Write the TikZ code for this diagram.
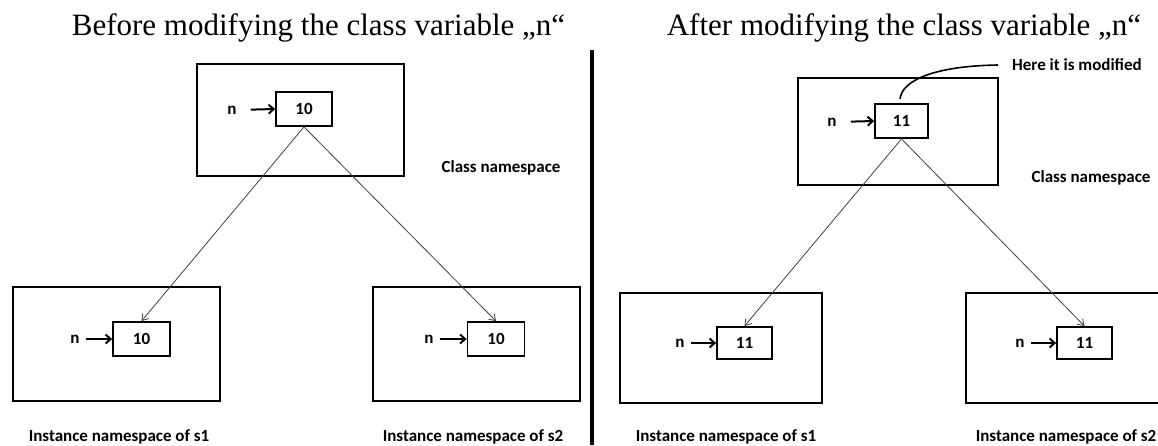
\documentclass[tikz,border=0pt]{standalone}
\usepackage{fontspec}
\setmainfont{Liberation Serif}
\newfontfamily\calibf{Carlito}
\usetikzlibrary{arrows.meta}
\newcommand{\labfont}{\calibf\bfseries\fontsize{17}{20}\selectfont}
\begin{document}
\begin{tikzpicture}[x=1pt,y=-1pt,
  outer/.style={draw,line width=1.8pt,inner sep=0pt},
  cell/.style={draw,line width=1.8pt,inner sep=0pt,font=\labfont},
  lab/.style={font=\labfont,inner sep=0pt},
  ptr/.style={-{Straight Barb[length=5pt,width=9pt]},line width=2pt},
  link/.style={-{Straight Barb[length=6pt,width=8pt]},line width=0.8pt,black!75},
  ttl/.style={anchor=base,inner sep=0pt,font=\fontsize{31}{36}\selectfont}]
\path[use as bounding box] (0,0) rectangle (1158,445);
\clip (0,0) rectangle (1158,445);

% titles
\node[ttl] (t1) at (318.5,35) {Before modifying the class variable „n“};
\node[ttl] (t2) at (904,35) {After modifying the class variable „n“};

% divider
\coordinate (dtop) at (592,50);
\coordinate (dbot) at (592,445);
\draw[line width=4.5pt] (dtop) -- (dbot);

% ---------- left panel ----------
\node[outer,minimum width=207pt,minimum height=112pt] (lc) at (300.5,120) {};
\node[cell,minimum width=56pt,minimum height=34pt] (lci) at (304,109) {10};
\node[lab] (lcn) at (232,110) {n};
\draw[ptr,shorten <=14pt] (lcn.east) -- (lci.west);
\node[lab] (lcl) at (501,168) {Class namespace};

\node[outer,minimum width=207pt,minimum height=114pt] (l1) at (116.5,344) {};
\node[cell,minimum width=57pt,minimum height=34pt] (l1i) at (141.5,339) {10};
\node[lab] (l1n) at (75,339) {n};
\draw[ptr,shorten <=6pt] (l1n.east) -- (l1i.west);
\node[lab] (l1l) at (119,437) {Instance namespace of s1};

\node[outer,minimum width=207pt,minimum height=114pt] (l2) at (476.5,344) {};
\node[cell,minimum width=57pt,minimum height=34pt] (l2i) at (496,339) {10};
\node[lab] (l2n) at (429,339) {n};
\draw[ptr,shorten <=6pt] (l2n.east) -- (l2i.west);
\node[lab] (l2l) at (473,437) {Instance namespace of s2};

\draw[link] (lci.south) -- (l1i.north);
\draw[link] (lci.south) -- (l2i.north);

% ---------- right panel ----------
\node[outer,minimum width=200pt,minimum height=107pt] (rc) at (898,131.5) {};
\node[cell,minimum width=53pt,minimum height=34pt] (rci) at (901.5,121) {11};
\node[lab] (rcn) at (832,122) {n};
\draw[ptr,shorten <=14pt] (rcn.east) -- (rci.west);
\node[lab] (rcl) at (1091,178) {Class namespace};

\node[outer,minimum width=202pt,minimum height=110pt] (r1) at (721,348) {};
\node[cell,minimum width=55pt,minimum height=32pt] (r1i) at (744.5,343) {11};
\node[lab] (r1n) at (680,343) {n};
\draw[ptr,shorten <=6pt] (r1n.east) -- (r1i.west);
\node[lab] (r1l) at (726,437) {Instance namespace of s1};

\node[outer,minimum width=202pt,minimum height=110pt] (r2) at (1067,348) {};
\node[cell,minimum width=55pt,minimum height=32pt] (r2i) at (1084.5,343) {11};
\node[lab] (r2n) at (1020,343) {n};
\draw[ptr,shorten <=6pt] (r2n.east) -- (r2i.west);
\node[lab] (r2l) at (1066,437) {Instance namespace of s2};

\draw[link] (rci.south) -- (r1i.north);
\draw[link] (rci.south) -- (r2i.north);

% modification note
\node[lab,anchor=west] (mod) at (1012,65) {Here it is modified};
\coordinate (cs) at (900,99);
\coordinate (ce) at (998,65);
\draw[line width=1.6pt] (cs) .. controls (902,80) and (935,66) .. (ce);
\end{tikzpicture}
\end{document}
